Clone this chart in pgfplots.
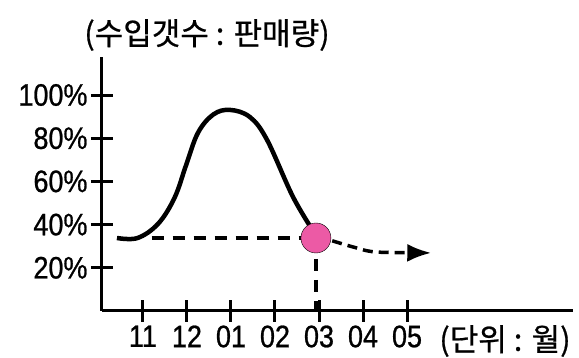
\documentclass[border=0pt]{standalone}
\usepackage{pgfplots}
\pgfplotsset{compat=1.18}
\usetikzlibrary{arrows.meta}
\usepackage{fontspec}
\setmainfont{Liberation Sans}[FakeStretch=0.87,FakeBold=0.8]
\newfontfamily\kr{Noto Sans CJK KR}[FakeBold=0.6]
\definecolor{dotpink}{RGB}{236,90,165}
\begin{document}
\begin{tikzpicture}
\useasboundingbox (-102pt,-47pt) rectangle (477pt,311pt);
\begin{axis}[
 scale only axis, width=471pt, height=254pt,
 xmin=-0.93, xmax=9.77, ymin=0, ymax=117.6,
 axis lines=left, axis line style={-, line width=3pt},
 xtick={0,...,6}, xticklabels={11,12,01,02,03,04,05},
 ytick={20,40,60,80,100}, yticklabel={\pgfmathprintnumber{\tick}\%},
 tick align=center, major tick length=22pt,
 every tick/.style={black, line width=3pt},
 tick label style={font=\fontsize{31}{33}\selectfont},
 /pgf/number format/assume math mode=true,
 clip=false,
]
\addplot[line width=4.5pt, smooth, tension=0.6] coordinates {(-0.59,33.8)(-0.12,33.8)(0.35,40.5)(0.72,52.5)(0.98,67.5)(1.25,82.5)(1.6,91)(1.98,93.1)(2.43,89.8)(2.82,79.2)(3.41,52.8)(3.9,36)};
\addplot[line width=3.5pt, dash pattern=on 12pt off 9pt] coordinates {(0.2,33.8)(3.8,33.8)};
\addplot[line width=3.5pt, dash pattern=on 12pt off 9pt] coordinates {(3.93,33.8)(3.93,0)};
\addplot[line width=3.5pt, dash pattern=on 10pt off 6pt, smooth, -{Latex[length=24pt,width=18pt]}] coordinates {(4.3,32.5)(4.8,29.5)(5.3,27.3)(6.55,26.9)};
\addplot[only marks, mark=*, mark size=15pt, mark options={draw=none, fill=dotpink}] coordinates {(3.93,33.8)};
\end{axis}
\node[font=\kr\fontsize{31}{33}\selectfont] at (105pt,276pt) {(수입갯수 : 판매량)};
\node[font=\kr\fontsize{31}{33}\selectfont] at (403pt,-30pt) {(단위 : 월)};
\end{tikzpicture}
\end{document}
